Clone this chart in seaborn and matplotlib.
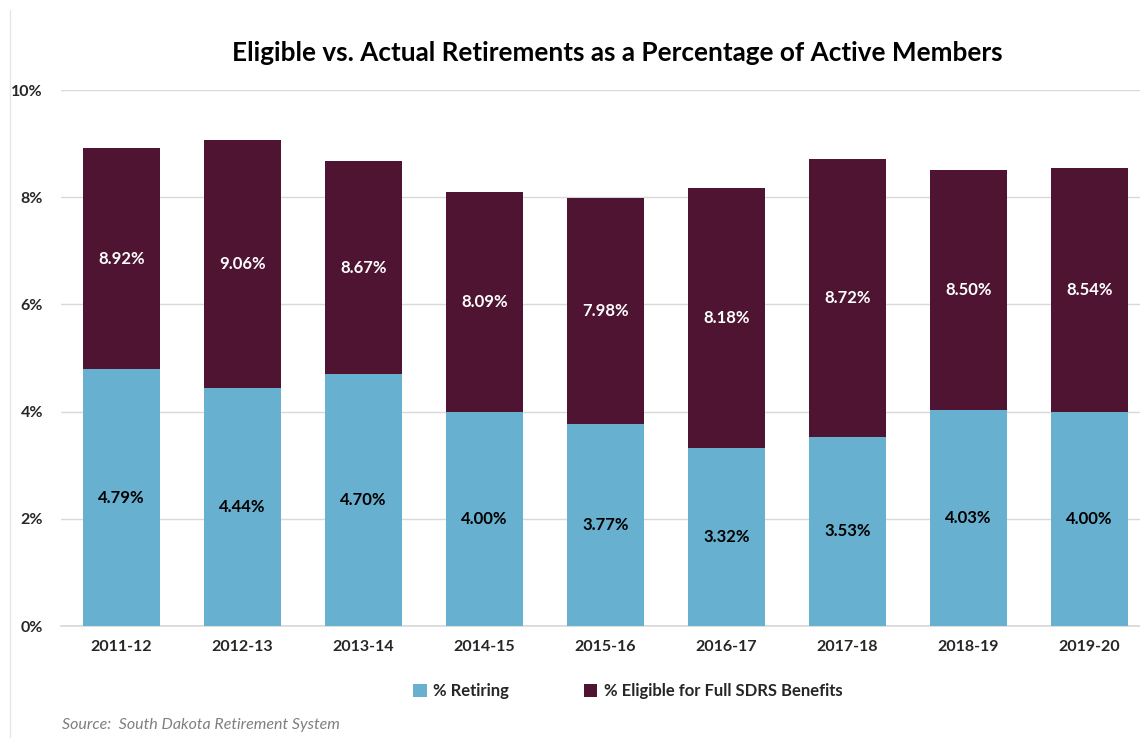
import matplotlib
matplotlib.use("Agg")
import matplotlib.pyplot as plt
import seaborn as sns
import pandas as pd
from matplotlib.patches import Patch
from matplotlib.lines import Line2D

years = ["2011-12", "2012-13", "2013-14", "2014-15", "2015-16",
         "2016-17", "2017-18", "2018-19", "2019-20"]
eligible = [8.92, 9.06, 8.67, 8.09, 7.98, 8.18, 8.72, 8.50, 8.54]
retiring = [4.79, 4.44, 4.70, 4.00, 3.77, 3.32, 3.53, 4.03, 4.00]
yticks = [0, 2, 4, 6, 8, 10]

C_RET = "#67B0CF"
C_ELI = "#4E1432"

sns.set_theme(style="white")
plt.rcParams["font.family"] = ["Lato", "DejaVu Sans"]

df = pd.DataFrame({"year": years, "eligible": eligible, "retiring": retiring})

fig = plt.figure(figsize=(11.4, 7.38), dpi=100)
ax = fig.add_axes([61/1140, 1 - 626/738, 1089/1140, (626 - 90)/738])

sns.barplot(data=df, x="year", y="eligible", color=C_ELI, saturation=1,
            width=0.64, ax=ax, zorder=3, linewidth=0)
sns.barplot(data=df, x="year", y="retiring", color=C_RET, saturation=1,
            width=0.64, ax=ax, zorder=4, linewidth=0)

for i, (r, e) in enumerate(zip(retiring, eligible)):
    ax.text(i, r / 2, f"{r:.2f}%", ha="center", va="center", fontsize=12,
            fontweight="bold", color="black", zorder=5)
    ax.text(i, (r + e) / 2, f"{e:.2f}%", ha="center", va="center", fontsize=12,
            fontweight="bold", color="white", zorder=5)

ax.set_ylim(0, 10)
ax.set_xlim(-0.5, len(years) - 0.5)
ax.set_yticks(yticks)
ax.set_yticklabels([f"{t}%" for t in yticks])
ax.tick_params(axis="y", length=0, pad=13, labelsize=11.5)
ax.tick_params(axis="x", length=0, pad=10, labelsize=11.5)
for lab in ax.get_xticklabels() + ax.get_yticklabels():
    lab.set_fontweight("bold")
ax.set_xlabel("")
ax.set_ylabel("")
ax.yaxis.grid(True, color="#D9D9D9", linewidth=1, zorder=0)
ax.set_axisbelow(True)
for s in ["top", "right", "left"]:
    ax.spines[s].set_visible(False)
ax.spines["bottom"].set_color("#D9D9D9")
ax.spines["bottom"].set_zorder(2)

fig.text(617/1140, 1 - 53/738,
         "Eligible vs. Actual Retirements as a Percentage of Active Members",
         ha="center", va="center", fontsize=18.8, fontweight="bold", color="black")

handles = [Patch(facecolor=C_RET, edgecolor="none", label="% Retiring"),
           Patch(facecolor=C_ELI, edgecolor="none", label="% Eligible for Full SDRS Benefits")]
fig.legend(handles=handles, loc="center", bbox_to_anchor=(628/1140, 1 - 691/738),
           ncol=2, frameon=False, prop={"weight": "bold", "size": 12},
           handlelength=0.8, handleheight=0.8, handletextpad=0.4, columnspacing=4.5)

fig.text(62/1140, 1 - 725/738, "Source:  South Dakota Retirement System",
         ha="left", va="center", fontsize=11.5, style="italic", color="#7F7F7F")

fig.add_artist(Line2D([10/1140, 10/1140], [0, 1 - 10/738], color="#E6E6E6",
                      linewidth=1, transform=fig.transFigure))

fig.savefig("out.png", dpi=100)
